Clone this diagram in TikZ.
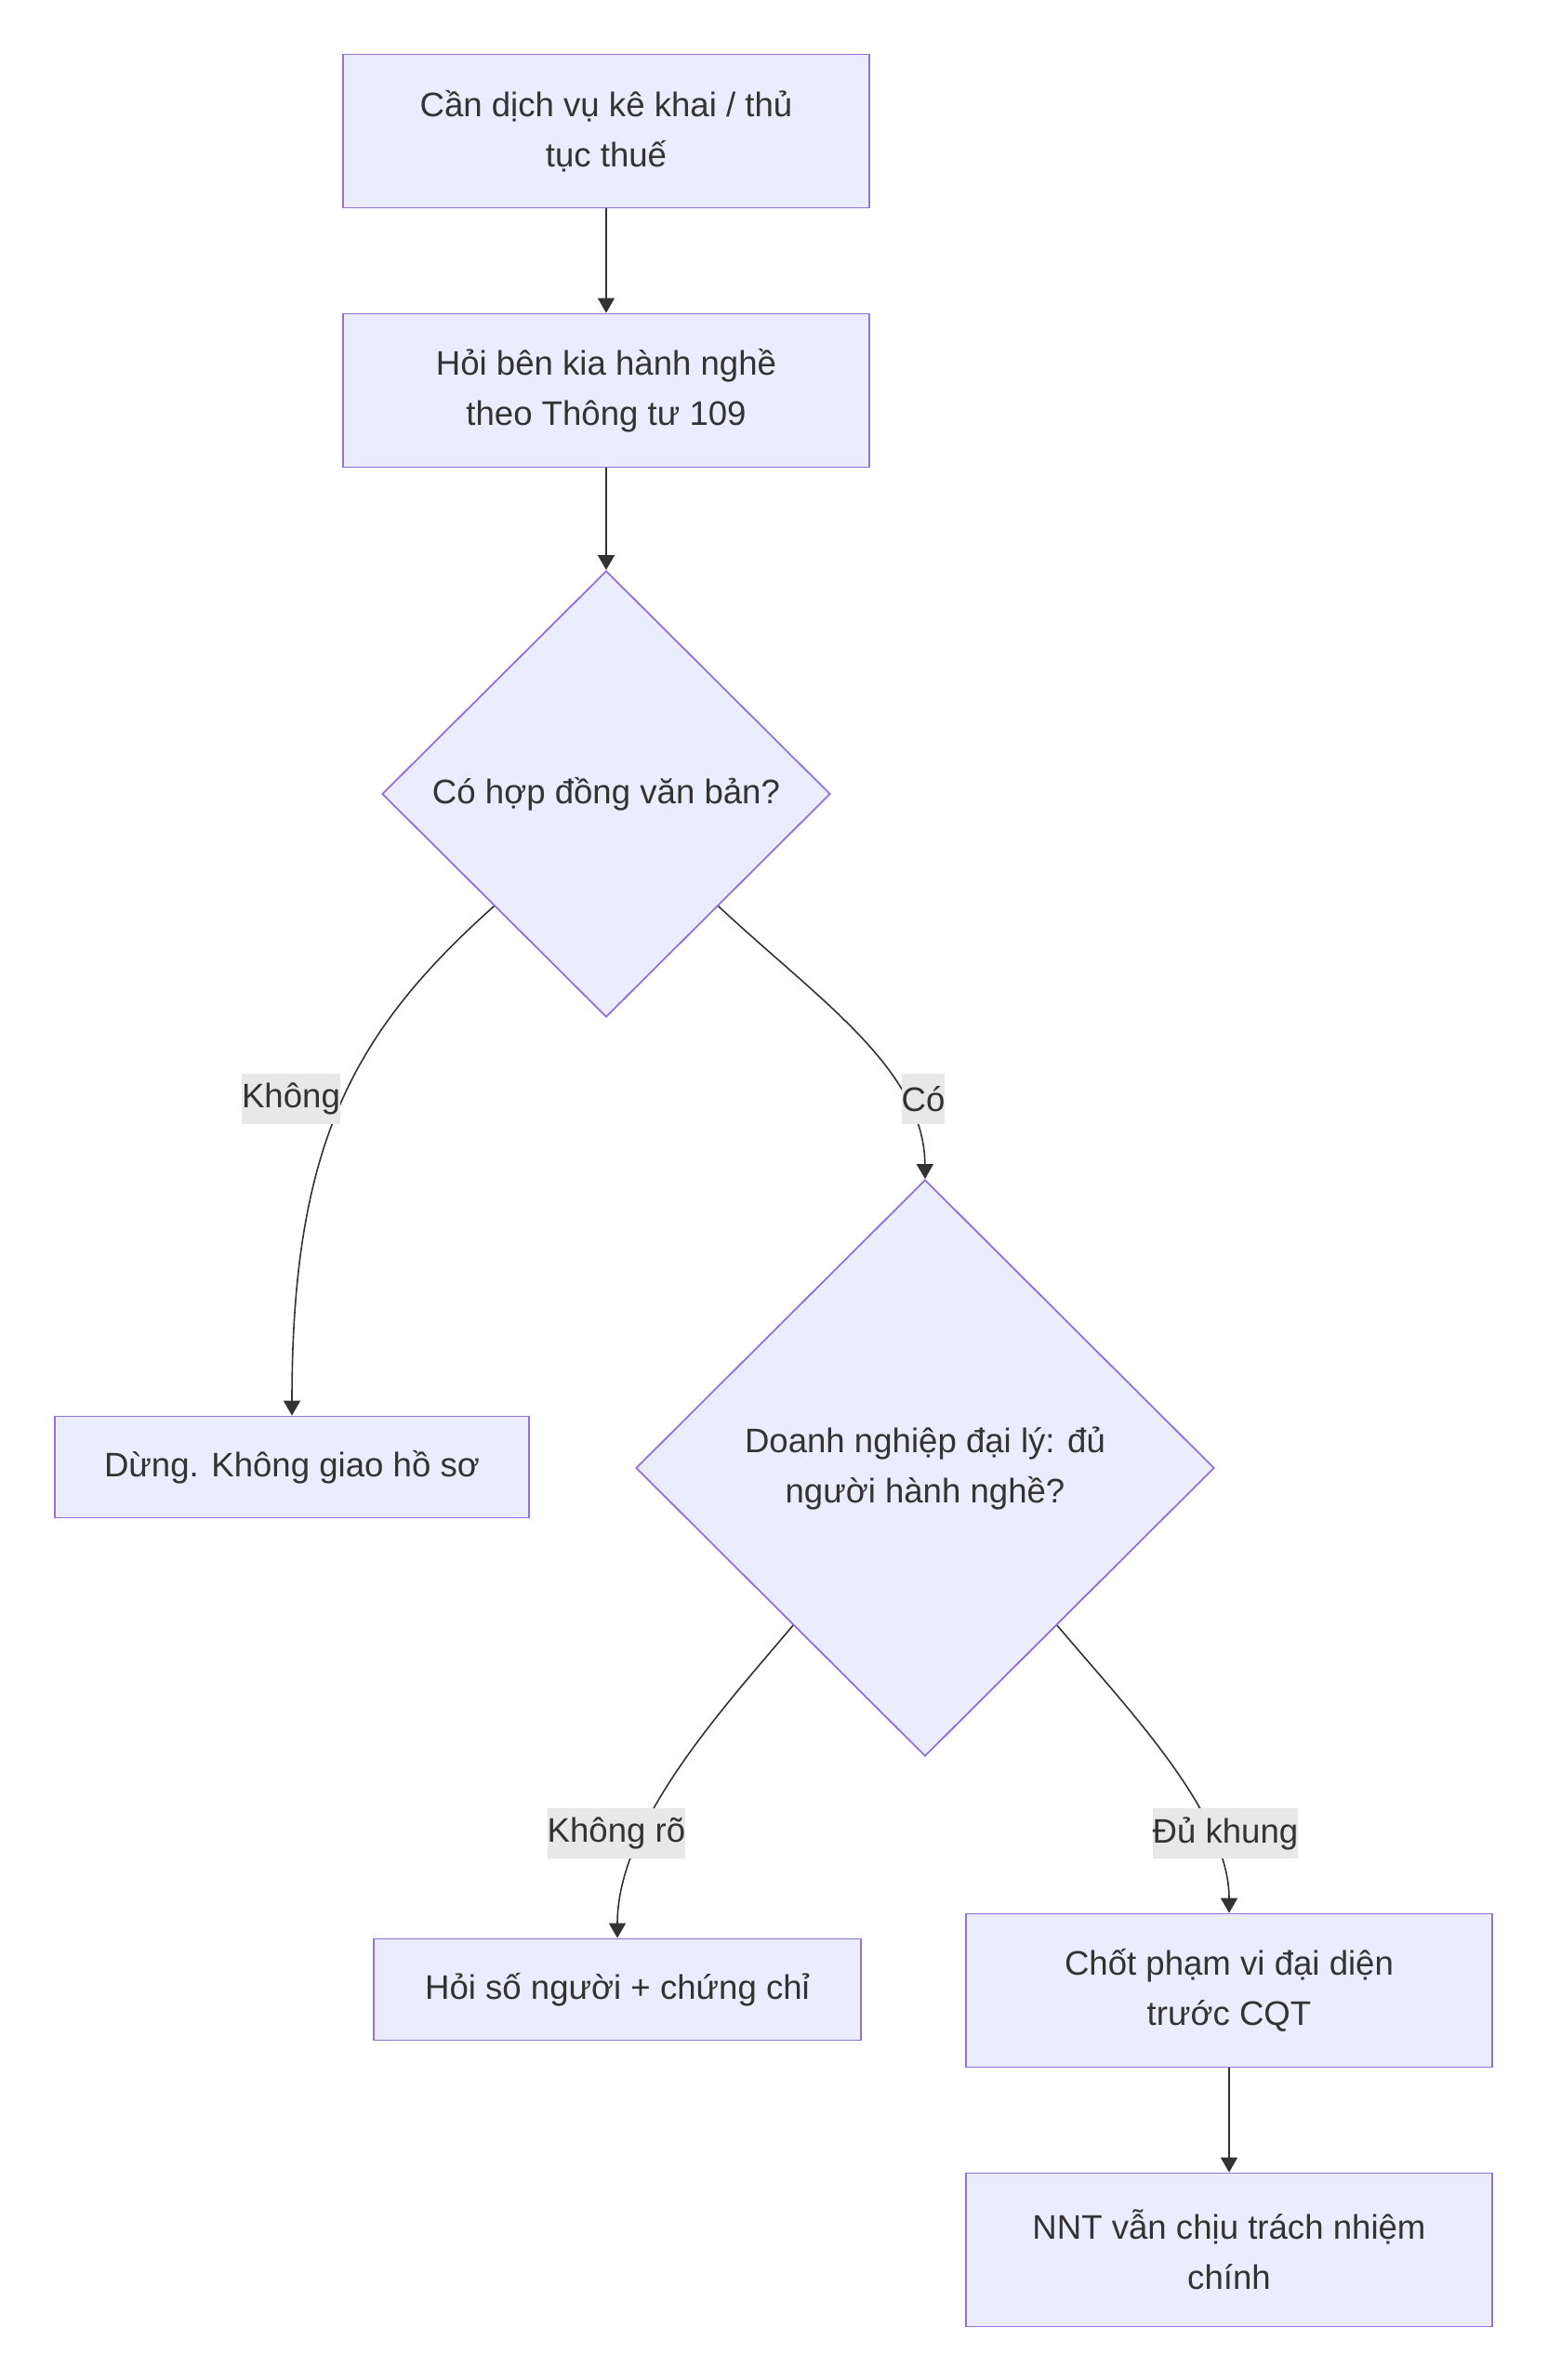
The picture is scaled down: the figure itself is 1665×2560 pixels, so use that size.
\documentclass[tikz,border=0pt]{standalone}
\usepackage{fontspec}
\setmainfont{Liberation Sans}
\usetikzlibrary{arrows.meta,shapes.geometric}
\definecolor{boxfill}{HTML}{ECECFF}
\definecolor{boxline}{HTML}{9370DB}
\definecolor{ink}{HTML}{333333}
\definecolor{lblbg}{HTML}{E8E8E8}
\tikzset{>/.tip={Triangle[length=8pt,width=9pt]},
  box/.style={draw=boxline, fill=boxfill, line width=0.9pt, text=ink, align=center,
    minimum width=283pt, minimum height=82.5pt, inner sep=0pt},
  choice/.style={diamond, draw=boxline, fill=boxfill, line width=0.9pt, text=ink,
    align=center, inner sep=0pt},
  lbl/.style={fill=lblbg, text=ink, inner sep=0pt, minimum height=27pt},
  flow/.style={->, draw=ink, line width=0.8pt}}

\begin{document}
\begin{tikzpicture}[x=0.5pt, y=-0.5pt, every node/.style={font=\fontsize{18.3}{27}\selectfont}]
\useasboundingbox (0,0) rectangle (1665,2560);
\node[box] (need) at (652,141) {Cần dịch vụ kê khai / thủ\\tục thuế};
\node[box] (ask) at (652,420) {Hỏi bên kia hành nghề\\theo Thông tư 109};
\node[choice, minimum width=241pt, minimum height=240pt] (contract) at (652,854) {Có hợp đồng văn bản?};
\node[box, minimum width=255pt, minimum height=54.5pt] (stop) at (314,1578) {Dừng. Không giao hồ sơ};
\node[choice, minimum width=311pt, minimum height=310pt] (agent) at (995,1579) {Doanh nghiệp đại lý: đủ\\người hành nghề?};
\node[box, minimum width=262pt, minimum height=54.5pt] (askmore) at (664,2140) {Hỏi số người + chứng chỉ};
\node[box] (scope) at (1322,2141) {Chốt phạm vi đại diện\\trước CQT};
\node[box] (nnt) at (1322,2420) {NNT vẫn chịu trách nhiệm\\chính};

\draw[flow] (need) -- (ask);
\draw[flow] (ask) -- (contract);
\draw[flow] (contract.225) .. controls (380,1110) and (314,1230) .. (stop.north);
\draw[flow] (contract.315) .. controls (880,1075) and (994,1150) .. (agent.north);
\draw[flow] (agent.230) .. controls (780,1835) and (664,1960) .. (askmore.north);
\draw[flow] (agent.310) .. controls (1210,1835) and (1322,1950) .. (scope.north);
\draw[flow] (scope) -- (nnt);

% edge labels
\node[lbl] (lno) at (313,1182) {Không};
\node[lbl] (lyes) at (993,1182) {Có};
\node[lbl] (lunclear) at (663,1972) {Không rõ};
\node[lbl] (lfull) at (1318,1972) {Đủ khung};
\end{tikzpicture}
\end{document}
